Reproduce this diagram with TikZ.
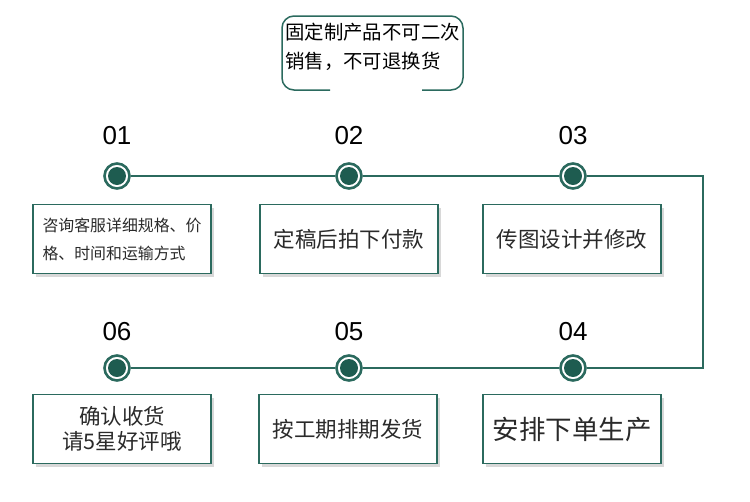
\documentclass[tikz,border=0pt]{standalone}
\usepackage{fontspec}
\setmainfont{Liberation Sans}
\newfontfamily\cjk{Noto Sans CJK SC}
\usetikzlibrary{shadows}
\definecolor{dg}{HTML}{2B6A5E}
\definecolor{df}{HTML}{1E5C50}
\definecolor{tx}{HTML}{2A2A2A}
\begin{document}
\begin{tikzpicture}[x=1pt,y=-1pt,
  stepbox/.style={draw=dg, line width=1.3pt, fill=white, minimum width=178pt, minimum height=69pt,
    inner sep=0pt, drop shadow={shadow xshift=3pt, shadow yshift=-3pt, opacity=0.3, fill=gray},
    font=\cjk\fontsize{21.5}{25}\selectfont, align=center, text=tx},
  ring/.style={circle, draw=dg, line width=2.6pt, fill=white, minimum size=25pt, inner sep=0pt,
    path picture={\fill[df] (path picture bounding box.center) circle (9pt);}},
  num/.style={font=\fontsize{26}{26}\selectfont, text=black},
  conn/.style={draw=dg, line width=2.2pt}]
\useasboundingbox (0,0) rectangle (750,501);
\fill[white] (0,0) rectangle (750,501);

% note
\node[anchor=west, align=left, font=\cjk\fontsize{19.4}{29}\selectfont, inner sep=0pt, text=black] (note) at (285,47)
  {固定制产品不可二次\\销售，不可退换货};
\draw[dg, line width=1.5pt, rounded corners=12pt] (330,90) -- (282,90) -- (282,16) -- (463,16) -- (463,90) -- (422,90);

% numbers
\node[num] (n1) at (117,136) {01};
\node[num] (n2) at (349,136) {02};
\node[num] (n3) at (573,136) {03};
\node[num] (n4) at (573,332) {04};
\node[num] (n5) at (349,332) {05};
\node[num] (n6) at (117,332) {06};

% rings
\node[ring] (c1) at (117,176) {};
\node[ring] (c2) at (349,176) {};
\node[ring] (c3) at (573,176) {};
\node[ring] (c4) at (573,368) {};
\node[ring] (c5) at (349,368) {};
\node[ring] (c6) at (117,368) {};
\coordinate (tr) at (703,176);
\coordinate (br) at (703,368);
\draw[conn] (c1) -- (c2);
\draw[conn] (c2) -- (c3);
\draw[conn] (c3) -- (tr) -- (br) -- (c4);
\draw[conn] (c4) -- (c5);
\draw[conn] (c5) -- (c6);

% boxes
\node[stepbox, font=\cjk\fontsize{15.9}{28}\selectfont, align=left] (b1) at (122,239)
  {\raisebox{-3pt}{咨询客服详细规格、价}\\\raisebox{-3pt}{格、时间和运输方式}};
\node[stepbox] (b2) at (349,239) {定稿后拍下付款};
\node[stepbox] (b3) at (572,239) {传图设计并修改};
\node[stepbox, font=\cjk\fontsize{26.5}{27}\selectfont] (b4) at (572,429) {安排下单生产};
\node[stepbox] (b5) at (348,429) {按工期排期发货};
\node[stepbox] (b6) at (122,429) {\raisebox{-4pt}{确认收货}\\\raisebox{-4pt}{请5星好评哦}};
\end{tikzpicture}
\end{document}
